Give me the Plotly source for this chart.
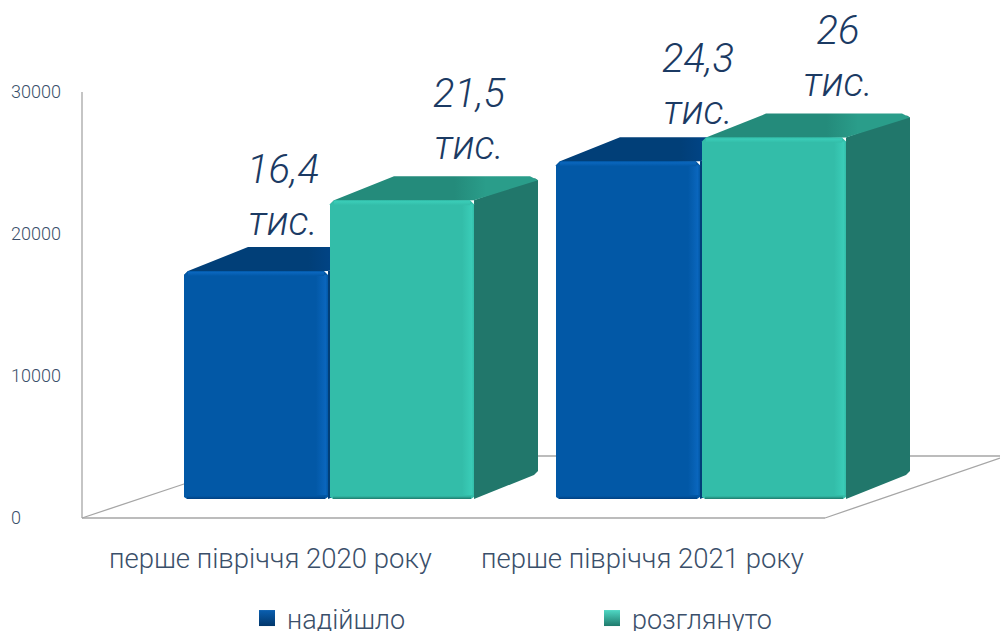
import plotly.graph_objects as go

# ---- data ----
categories = ["перше півріччя 2020 року", "перше півріччя 2021 року"]
series_names = ["надійшло", "розглянуто"]
received = [16400, 24300]
reviewed = [21500, 26000]
received_labels = ["16,4<br>тис.", "24,3<br>тис."]
reviewed_labels = ["21,5<br>тис.", "26<br>тис."]
y_ticks = [0, 10000, 20000, 30000]

# ---- layout constants (pixels of the 1000x631 page) ----
W, H = 1000, 631
AX_ZERO, AX_TOP = 518, 92            # pixel rows of 0 and 30000 on the value axis
BAR_ZERO, BAR_PX = 499, 13.9 / 1000  # pixel row of bar base, px per unit of front plane
DX, DY_PX = 64, 24                   # depth of the 3D projection
received_x = [184, 556]
reviewed_x = [330, 702]
BAR_W = 144
cat_label_x = [270.5, 642]
received_lab_x = [283, 698]
reviewed_lab_x = [469, 838]
received_lab_gap = [26, 27]
reviewed_lab_gap = [31, 32]
DY = DY_PX / BAR_PX
U = 1 / BAR_PX   # value units per pixel of the front plane

NAVY = "#1b3a63"
TICK = "#3a4f6a"
FONT = "Roboto"
BLUE = dict(front="#0258a6", top="#01468a", shade="#013f78", side="#013f78", edge="#0a66bd", low="#003f80")
TEAL = dict(front="#33bda9", top="#2a9d8a", shade="#248b7b", side="#21776b", edge="#3accb7", low="#1f7a6c")

upp = 30000 / (AX_ZERO - AX_TOP)
y1_range = [-(H - AX_ZERO) * upp, AX_ZERO * upp]
y2_range = [-(H - BAR_ZERO) / BAR_PX, BAR_ZERO / BAR_PX]

fig = go.Figure()


def poly(xs, ys, color, gradient=None):
    kw = dict(fillgradient=gradient) if gradient else dict(fillcolor=color)
    fig.add_trace(go.Scatter(x=xs, y=ys, yaxis="y2", mode="lines", fill="toself",
                             line=dict(width=0, color=color), showlegend=False,
                             hoverinfo="skip", **kw))


def line(xs, ys, axis="y2"):
    fig.add_trace(go.Scatter(x=xs, y=ys, yaxis=axis, mode="lines", showlegend=False,
                             line=dict(color="#a6a6a6", width=1.3), hoverinfo="skip"))


# floor and wall lines
line([82, 82], [0, 30000], "y")
line([82, 825], [0, 0], "y")
line([825, 1000], [0, 60 * upp], "y")
line([82, 190], [0, 36 * upp], "y")
line([520, 1000], [62 * upp] * 2, "y")


def series(xs, vals, c):
    for x, v in zip(xs, vals):
        r = x + BAR_W
        c4 = 4 * U
        # depth faces, corners chamfered
        poly([r, r + DX - 3, r + DX, r + DX, r + DX - 4, r, r],
             [v, v + DY - c4 / 2, v + DY - c4, DY + c4, DY, 0, v], c["side"])
        poly([x, x + 4, x + DX, r + DX - 8, r + DX, r, x],
             [v - c4, v, v + DY, v + DY, v + DY - c4, v, v - c4], c["top"],
             dict(type="horizontal", colorscale=[[0, c["shade"]], [0.6, c["shade"]], [0.75, c["top"]], [1, c["top"]]]))
        # front face
        poly([x, x + 4, r - 4, r, r, r - 3, x + 3, x],
             [v - c4, v, v, v - c4, c4 / 2, 0, 0, c4 / 2], c["front"])
        # bevel highlights
        poly([r - 12, r, r, r - 12, r - 12], [v - c4, v - c4, c4, c4, v - c4], c["edge"],
             dict(type="horizontal", colorscale=[[0, c["front"]], [0.8, c["edge"]], [1, c["front"]]]))
        poly([x + 3, r - 3, r - 3, x + 3, x + 3], [0, 0, 3 * U, 3 * U, 0], c["low"],
             dict(type="vertical", colorscale=[[0, c["low"]], [1, c["front"]]]))
        poly([x + 4, r - 4, r - 4, x + 4, x + 4], [v, v, v - 5 * U, v - 5 * U, v], c["edge"],
             dict(type="vertical", colorscale=[[0, c["front"]], [0.7, c["edge"]], [1, c["front"]]]))


series(received_x, received, BLUE)
series(reviewed_x, reviewed, TEAL)

# data labels
lab_x = [received_lab_x[0], reviewed_lab_x[0], received_lab_x[1], reviewed_lab_x[1]]
lab_y = [received[0] + received_lab_gap[0] * U, reviewed[0] + reviewed_lab_gap[0] * U,
         received[1] + received_lab_gap[1] * U, reviewed[1] + reviewed_lab_gap[1] * U]
lab_text = [received_labels[0], reviewed_labels[0], received_labels[1], reviewed_labels[1]]
fig.add_trace(go.Scatter(x=lab_x, y=lab_y, yaxis="y2", mode="text", text=lab_text,
                         textposition="top center", showlegend=False, hoverinfo="skip", cliponaxis=False,
                         textfont=dict(family=FONT, size=40, color=NAVY, style="italic", weight=300)))

# legend entries
for name, col, dark in [(series_names[0], "#0a5fb0", "#02376b"), (series_names[1], "#4fd8c4", "#1f7a6c")]:
    fig.add_trace(go.Scatter(x=[None], y=[None], mode="markers", name=name,
                             marker=dict(symbol="square", size=17, color=col,
                                         gradient=dict(type="vertical", color=dark))))

for x, c in zip(cat_label_x, categories):
    fig.add_annotation(x=x, y=(H - 558) / H, xref="x", yref="paper", yanchor="middle", text=c, showarrow=False,
                       font=dict(family=FONT, size=27.5, color=TICK, weight=300))

fig.update_layout(
    width=W, height=H, margin=dict(l=0, r=0, t=0, b=0, autoexpand=False), autosize=False,
    paper_bgcolor="white", plot_bgcolor="white",
    font=dict(family=FONT, color=TICK),
    xaxis=dict(range=[0, W], visible=False, domain=[0, 1]),
    yaxis=dict(range=y1_range, domain=[0, 1], tickvals=y_ticks, ticktext=[str(t) for t in y_ticks],
               ticklabelposition="inside", ticklen=0, showgrid=False, zeroline=False, showline=False,
               tickfont=dict(family=FONT, size=18, color=TICK, weight=300), ticklabelstandoff=8),
    yaxis2=dict(range=y2_range, domain=[0, 1], overlaying="y", visible=False),
    legend=dict(orientation="h", x=0.247, y=-0.019, xanchor="left", yanchor="bottom",
                entrywidth=300, entrywidthmode="pixels", itemwidth=30,
                font=dict(family=FONT, size=27, color=TICK, weight=300),
                bgcolor="rgba(0,0,0,0)", traceorder="normal"),
)

fig.write_html("out.html", post_script="document.body.style.margin='0';document.body.style.overflow='hidden';",
               config={"displayModeBar": False})
